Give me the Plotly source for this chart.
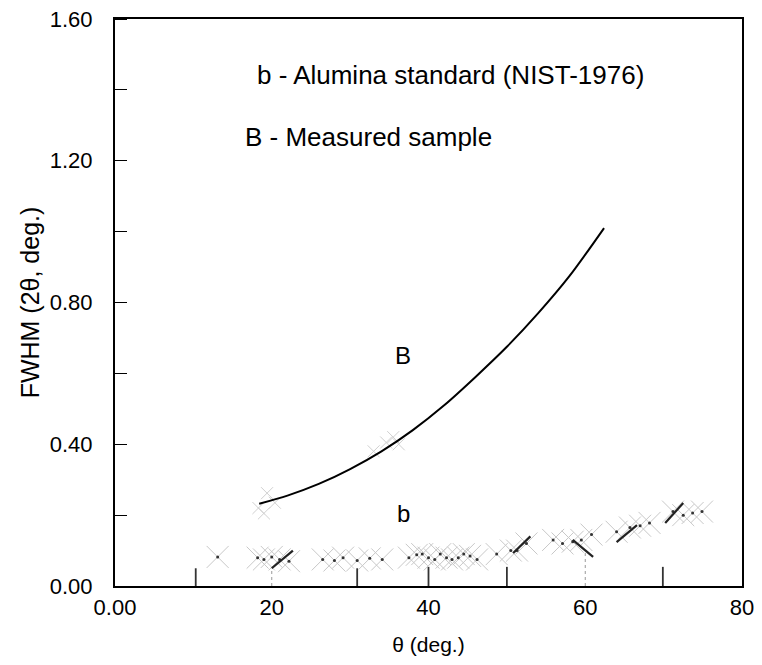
import plotly.graph_objects as go

# Curve B (measured sample)
B_theta = [18.4, 22, 26, 30, 34, 38, 42, 46, 50, 54, 58, 62.4]
B_fwhm = [0.232, 0.255, 0.288, 0.330, 0.380, 0.440, 0.510, 0.590, 0.675, 0.770, 0.875, 1.010]

# faint points near curve B
Bpts_theta = [18.3, 19.4, 20.4, 19.0, 33.0, 34.6, 36.2, 35.5]
Bpts_fwhm = [0.220, 0.262, 0.235, 0.205, 0.380, 0.405, 0.400, 0.420]

# b - alumina standard points
b_theta = [13.1, 18.2, 19.0, 20.0, 21.0, 22.2, 26.5, 28.0, 29.1, 30.9, 32.5, 34.1,
           37.5, 38.5, 39.2, 40.0, 40.8, 41.5, 42.3, 43.0, 43.8, 44.5, 45.3, 46.2,
           48.7, 50.5, 51.3, 52.5, 55.9, 57.1, 58.4, 59.5, 60.8,
           64.0, 65.7, 67.0, 68.2, 71.2, 72.5, 73.7, 74.9]
b_fwhm = [0.082, 0.080, 0.075, 0.082, 0.075, 0.070, 0.075, 0.072, 0.080, 0.072, 0.078, 0.075,
          0.080, 0.088, 0.090, 0.080, 0.075, 0.090, 0.080, 0.075, 0.080, 0.090, 0.085, 0.075,
          0.090, 0.100, 0.100, 0.120, 0.130, 0.120, 0.125, 0.130, 0.145,
          0.153, 0.165, 0.170, 0.178, 0.210, 0.200, 0.206, 0.210]

# dark line segments in b data (start theta, start fwhm, end theta, end fwhm)
seg_theta0 = [20.0, 50.8, 58.4, 64.0, 70.2]
seg_fwhm0 = [0.050, 0.093, 0.130, 0.124, 0.178]
seg_theta1 = [22.7, 53.0, 61.0, 66.6, 72.5]
seg_fwhm1 = [0.100, 0.140, 0.082, 0.172, 0.234]

# reference peak sticks
stick_theta = [10.3, 30.9, 40.0, 50.0, 69.9]
stick_height = [0.05, 0.05, 0.054, 0.054, 0.054]
stick_theta_dot = [60.0, 20.0]
stick_height_dot = [0.093, 0.05]

x_ticks = [0, 20, 40, 60, 80]
x_ticktext = ["0.00", "20", "40", "60", "80"]
y_ticks = [0.0, 0.4, 0.8, 1.2, 1.6]
y_ticktext = ["0.00", "0.40", "0.80", "1.20", "1.60"]

FONT = "Liberation Sans, Arial, sans-serif"

fig = go.Figure()

# b markers
fig.add_trace(go.Scatter(x=b_theta, y=b_fwhm, mode="markers",
                         marker=dict(symbol="x-thin-open", size=22, color="#c8c8c8",
                                     line=dict(color="#c8c8c8", width=1)),
                         showlegend=False, hoverinfo="skip"))
fig.add_trace(go.Scatter(x=b_theta, y=b_fwhm, mode="markers",
                         marker=dict(symbol="circle", size=3, color="#333333"),
                         showlegend=False, hoverinfo="skip"))

# dark segments
sx, sy = [], []
for a, b, c, d in zip(seg_theta0, seg_fwhm0, seg_theta1, seg_fwhm1):
    sx += [a, c, None]
    sy += [b, d, None]
fig.add_trace(go.Scatter(x=sx, y=sy, mode="lines",
                         line=dict(color="#222222", width=2.2),
                         showlegend=False, hoverinfo="skip"))

# sticks
tx, ty = [], []
for a, h in zip(stick_theta, stick_height):
    tx += [a, a, None]
    ty += [0, h, None]
fig.add_trace(go.Scatter(x=tx, y=ty, mode="lines",
                         line=dict(color="#333333", width=1.8),
                         showlegend=False, hoverinfo="skip"))
dx, dy = [], []
for a, h in zip(stick_theta_dot, stick_height_dot):
    dx += [a, a, None]
    dy += [0, h, None]
fig.add_trace(go.Scatter(x=dx, y=dy, mode="lines",
                         line=dict(color="#999999", width=1, dash="dot"),
                         showlegend=False, hoverinfo="skip"))

# faint points near B
fig.add_trace(go.Scatter(x=Bpts_theta, y=Bpts_fwhm, mode="markers",
                         marker=dict(symbol="x-thin-open", size=12, color="#d0d0d0",
                                     line=dict(color="#d0d0d0", width=1)),
                         showlegend=False, hoverinfo="skip"))

# curve B
fig.add_trace(go.Scatter(x=B_theta, y=B_fwhm, mode="lines",
                         line=dict(color="black", width=2, shape="spline", smoothing=0.8),
                         showlegend=False, hoverinfo="skip"))

# plot area in page pixels
PX0, PX1, PY0, PY1 = 115, 742, 19, 586
annots = [
    dict(x=255, y=75, text="b - Alumina standard (NIST-1976)", xanchor="left", size=26),
    dict(x=243, y=137, text="B - Measured sample", xanchor="left", size=26),
    dict(x=403, y=355, text="B", xanchor="center", size=24),
    dict(x=403, y=513, text="b", xanchor="center", size=24),
]
for a in annots:
    px = (a["x"] - PX0) / (PX1 - PX0)
    py = (PY1 - a["y"]) / (PY1 - PY0)
    fig.add_annotation(x=px, y=py, xref="paper", yref="paper", text=a["text"],
                       xanchor=a["xanchor"], yanchor="middle", showarrow=False,
                       font=dict(family=FONT, size=a["size"], color="black"))

fig.update_layout(
    width=762, height=665,
    margin=dict(l=PX0, r=762 - PX1, t=PY0, b=665 - PY1),
    paper_bgcolor="white", plot_bgcolor="white",
    font=dict(family=FONT, size=22, color="black"),
    xaxis=dict(range=[0, 80], tickvals=x_ticks, ticktext=x_ticktext,
               ticks="", showgrid=False, zeroline=False, automargin=False,
               showline=True, linecolor="black", linewidth=2, mirror=True,
               ticklabelstandoff=1,
               title=dict(text="θ (deg.)", font=dict(size=21), standoff=18)),
    yaxis=dict(range=[0, 1.6], tickvals=y_ticks, ticktext=y_ticktext,
               ticks="", showgrid=False, zeroline=False, automargin=False,
               showline=True, linecolor="black", linewidth=2, mirror=True,
               ticklabelstandoff=16,
               minor=dict(ticks="inside", ticklen=12, tickwidth=1.2,
                          tickcolor="black", dtick=0.2, tick0=0, showgrid=False),
               title=dict(text="FWHM (2θ, deg.)", font=dict(size=25), standoff=3)),
)

fig.write_html("out.html", config={"displayModeBar": False},
               post_script="document.body.style.margin='0';document.body.style.overflow='hidden';")
